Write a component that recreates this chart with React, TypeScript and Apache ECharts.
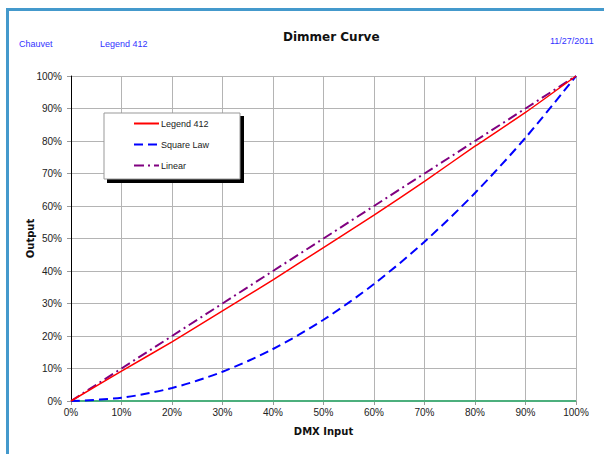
import React, { useEffect, useRef } from "react";
import * as echarts from "echarts";

const xInput = [0, 10, 20, 30, 40, 50, 60, 70, 80, 90, 100];
const legend412 = [0, 9.2, 18.2, 27.7, 37.3, 47.2, 57.2, 67.6, 78.4, 88.8, 100];
const squareLaw = [0, 1, 4, 9, 16, 25, 36, 49, 64, 81, 100];
const linear = [0, 10, 20, 30, 40, 50, 60, 70, 80, 90, 100];
const zeroLine = [0, 0, 0, 0, 0, 0, 0, 0, 0, 0, 0];
const seriesNames = ["Legend 412", "Square Law", "Linear"];
const headerTexts = ["Chauvet", "Legend 412", "11/27/2011"];

const pairs = (ys: number[]) => xInput.map((x, i) => [x, ys[i]]);

export default function App() {
  const ref = useRef<HTMLDivElement>(null);
  useEffect(() => {
    if (!ref.current) return;
    const chart = echarts.init(ref.current, null, { renderer: "svg" });
    const font = "'Liberation Sans', Arial, sans-serif";
    const boldFont = "'DejaVu Sans', Verdana, sans-serif";
    chart.setOption({
      animation: false,
      backgroundColor: "#ffffff",
      title: {
        text: "Dimmer Curve",
        left: 283,
        top: 31,
        padding: 0,
        textStyle: { fontFamily: boldFont, fontWeight: "bold", fontSize: 12, color: "#111" },
      },
      graphic: [
        {
          type: "rect",
          shape: { x: 7.5, y: 9.5, width: 800, height: 700 },
          style: { fill: "none", stroke: "#4499cc", lineWidth: 3 },
          z: 10,
        },
        {
          type: "text",
          left: 19,
          top: 39,
          style: { text: headerTexts[0], fill: "#3333ff", font: `9px ${font}` },
        },
        {
          type: "text",
          left: 100,
          top: 39,
          style: { text: headerTexts[1], fill: "#3333ff", font: `9px ${font}` },
        },
        {
          type: "text",
          left: 550,
          top: 36,
          style: { text: headerTexts[2], fill: "#3333ff", font: `9px ${font}` },
        },
        {
          type: "rect",
          shape: { x: 107, y: 116, width: 137, height: 67 },
          style: { fill: "#000000" },
          z: 3,
        },
        {
          type: "rect",
          shape: { x: 104, y: 113, width: 136, height: 66 },
          style: { fill: "#ffffff", stroke: "#999999", lineWidth: 1 },
          z: 3,
        },
      ],
      legend: {
        data: seriesNames,
        orient: "vertical",
        left: 133,
        top: 119,
        padding: 0,
        itemWidth: 25,
        itemHeight: 10,
        itemGap: 12,
        z: 5,
        itemStyle: { color: "transparent", borderColor: "transparent", borderWidth: 0, opacity: 0 },
        textStyle: { fontFamily: font, fontSize: 9, color: "#222", padding: [0, 0, 0, -3] },
      },
      grid: { left: 71, right: 28, top: 76, bottom: 53 },
      xAxis: {
        type: "value",
        min: 0,
        max: 100,
        interval: 10,
        name: "DMX Input",
        nameLocation: "middle",
        nameGap: 25,
        nameMoveOverlap: false,
        nameTextStyle: { fontFamily: boldFont, fontWeight: "bold", fontSize: 10, color: "#111" },
        axisLine: { show: true, lineStyle: { color: "#999", width: 1 } },
        axisTick: { show: true, length: 4, lineStyle: { color: "#999" } },
        axisLabel: { formatter: "{value}%", fontFamily: font, fontSize: 10, color: "#222", margin: 6 },
        splitLine: { show: true, lineStyle: { color: "#b4b4b4", width: 1 } },
      },
      yAxis: {
        type: "value",
        min: 0,
        max: 100,
        interval: 10,
        name: "Output",
        nameLocation: "middle",
        nameGap: 36,
        nameMoveOverlap: false,
        nameTextStyle: { fontFamily: boldFont, fontWeight: "bold", fontSize: 10, color: "#111" },
        axisLine: { show: true, lineStyle: { color: "#000", width: 1 } },
        axisTick: { show: true, length: 4, lineStyle: { color: "#999" } },
        axisLabel: { formatter: "{value}%", fontFamily: font, fontSize: 10, color: "#222", margin: 9 },
        splitLine: { show: true, lineStyle: { color: "#b4b4b4", width: 1 } },
      },
      series: [
        {
          name: "Zero",
          type: "line",
          data: pairs(zeroLine),
          symbol: "none",
          lineStyle: { color: "#4caf7d", width: 2 },
          itemStyle: { color: "#4caf7d" },
          z: 2,
        },
        {
          name: seriesNames[1],
          type: "line",
          data: pairs(squareLaw),
          symbol: "none",
          smooth: 0.3,
          lineStyle: { color: "#0000ff", width: 2, type: [9, 5] },
          itemStyle: { color: "#0000ff" },
          z: 3,
        },
        {
          name: seriesNames[2],
          type: "line",
          data: pairs(linear),
          symbol: "none",
          lineStyle: { color: "#800080", width: 2, type: [10, 4, 2, 4] },
          itemStyle: { color: "#800080" },
          z: 3,
        },
        {
          name: seriesNames[0],
          type: "line",
          data: pairs(legend412),
          symbol: "none",
          smooth: 0.2,
          lineStyle: { color: "#ff0000", width: 1.5 },
          itemStyle: { color: "#ff0000" },
          z: 4,
        },
      ],
    });
    return () => chart.dispose();
  }, []);
  return (
    <div
      ref={ref}
      style={{ position: "absolute", left: 0, top: 0, width: 604, height: 454 }}
    />
  );
}
